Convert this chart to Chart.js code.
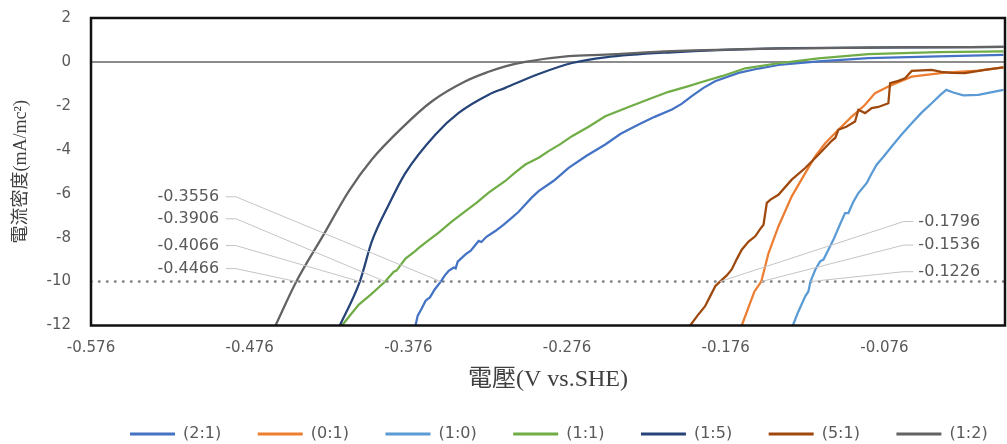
<!DOCTYPE html>
<html>
<head>
<meta charset="utf-8">
<script src="https://cdn.jsdelivr.net/npm/chart.js@4.4.1/dist/chart.umd.min.js"></script>
<style>
html,body{margin:0;padding:0;background:#fff;overflow:hidden}
#wrap{position:relative;width:1007px;height:444px}
</style>
</head>
<body>
<div id="wrap"><canvas id="c" width="1007" height="444"></canvas></div>
<script>
// ---------------- data ----------------
const SERIES_NAMES = ['(2:1)', '(0:1)', '(1:0)', '(1:1)', '(1:5)', '(5:1)', '(1:2)'];

const S_2_1 = [[-0.3715,-12.0],[-0.3701,-11.55],[-0.3676,-11.23],[-0.3652,-10.88],[-0.3640,-10.80],[-0.3625,-10.73],[-0.3594,-10.36],[-0.3556,-10.0],[-0.3531,-9.73],[-0.3506,-9.51],[-0.3474,-9.36],[-0.3462,-9.40],[-0.3449,-9.09],[-0.3400,-8.76],[-0.3367,-8.59],[-0.3317,-8.15],[-0.3300,-8.20],[-0.3266,-7.95],[-0.3212,-7.70],[-0.3159,-7.41],[-0.3107,-7.09],[-0.3065,-6.82],[-0.3023,-6.49],[-0.2983,-6.18],[-0.2939,-5.88],[-0.2844,-5.41],[-0.2750,-4.82],[-0.2637,-4.27],[-0.2519,-3.76],[-0.2422,-3.27],[-0.2309,-2.85],[-0.2208,-2.50],[-0.2099,-2.17],[-0.2038,-1.91],[-0.1974,-1.56],[-0.1900,-1.18],[-0.1827,-0.88],[-0.1679,-0.50],[-0.1553,-0.30],[-0.1428,-0.14],[-0.1176,0.02],[-0.0861,0.17],[-0.0420,0.25],[-0.001,0.32]];

const S_0_1 = [[-0.1659,-12.0],[-0.1606,-10.97],[-0.1579,-10.45],[-0.1536,-10.0],[-0.1490,-8.70],[-0.1428,-7.49],[-0.1344,-6.12],[-0.1259,-5.06],[-0.1196,-4.30],[-0.1133,-3.70],[-0.1050,-3.09],[-0.0966,-2.49],[-0.0924,-2.23],[-0.0882,-1.95],[-0.0819,-1.42],[-0.0735,-1.12],[-0.0588,-0.67],[-0.0378,-0.49],[-0.0168,-0.40],[-0.001,-0.25]];

const S_1_0 = [[-0.1337,-12.0],[-0.1302,-11.36],[-0.1259,-10.67],[-0.1239,-10.45],[-0.1226,-10.0],[-0.1195,-9.45],[-0.1165,-9.08],[-0.1144,-9.0],[-0.1113,-8.55],[-0.1081,-8.09],[-0.1043,-7.45],[-0.1008,-6.88],[-0.0987,-6.88],[-0.0955,-6.36],[-0.0924,-5.97],[-0.0871,-5.51],[-0.0848,-5.18],[-0.0809,-4.68],[-0.0766,-4.32],[-0.0714,-3.85],[-0.0653,-3.32],[-0.0588,-2.79],[-0.0527,-2.32],[-0.0462,-1.88],[-0.0407,-1.50],[-0.0370,-1.27],[-0.0326,-1.39],[-0.0263,-1.52],[-0.0168,-1.50],[-0.001,-1.27]];

const S_1_1 = [[-0.4178,-12.0],[-0.4123,-11.5],[-0.4072,-11.05],[-0.3997,-10.59],[-0.3906,-10.0],[-0.3852,-9.55],[-0.3835,-9.50],[-0.3778,-8.95],[-0.3715,-8.60],[-0.3700,-8.50],[-0.3644,-8.18],[-0.3569,-7.77],[-0.3487,-7.27],[-0.3400,-6.79],[-0.3329,-6.41],[-0.3254,-5.95],[-0.3149,-5.42],[-0.3090,-5.05],[-0.3023,-4.67],[-0.2939,-4.36],[-0.2876,-4.06],[-0.2800,-3.73],[-0.2729,-3.38],[-0.2624,-2.95],[-0.2519,-2.47],[-0.2372,-2.05],[-0.2225,-1.64],[-0.2120,-1.36],[-0.1994,-1.10],[-0.1900,-0.89],[-0.1785,-0.65],[-0.1637,-0.29],[-0.1428,-0.06],[-0.1176,0.16],[-0.0861,0.36],[-0.0420,0.45],[-0.001,0.48]];

const S_1_5 = [[-0.4192,-12.0],[-0.4066,-10.0],[-0.3989,-8.15],[-0.3883,-6.49],[-0.3778,-5.05],[-0.3589,-3.30],[-0.3443,-2.32],[-0.3254,-1.49],[-0.3149,-1.18],[-0.2939,-0.55],[-0.2729,-0.05],[-0.2519,0.21],[-0.2099,0.44],[-0.1490,0.61],[-0.0672,0.66],[-0.001,0.68]];

const S_5_1 = [[-0.1984,-12.0],[-0.1938,-11.55],[-0.1890,-11.12],[-0.1856,-10.64],[-0.1826,-10.21],[-0.1796,-10.0],[-0.1755,-9.73],[-0.1722,-9.45],[-0.1692,-9.0],[-0.1659,-8.55],[-0.1616,-8.18],[-0.1574,-7.94],[-0.1541,-7.59],[-0.1522,-7.41],[-0.1501,-6.42],[-0.1478,-6.27],[-0.1428,-6.05],[-0.1344,-5.36],[-0.1259,-4.83],[-0.1176,-4.23],[-0.1092,-3.59],[-0.1069,-3.45],[-0.1050,-3.09],[-0.1000,-2.95],[-0.0945,-2.71],[-0.0924,-2.18],[-0.0882,-2.33],[-0.0840,-2.10],[-0.0798,-2.05],[-0.0735,-1.88],[-0.0724,-0.97],[-0.0672,-0.86],[-0.0630,-0.74],[-0.0588,-0.41],[-0.0462,-0.36],[-0.0401,-0.45],[-0.0336,-0.50],[-0.0252,-0.51],[-0.0126,-0.36],[-0.001,-0.25]];

const S_1_2 = [[-0.4597,-12.0],[-0.4466,-10.0],[-0.4293,-7.85],[-0.4135,-5.88],[-0.3989,-4.43],[-0.3800,-3.0],[-0.3611,-1.79],[-0.3400,-0.88],[-0.3254,-0.45],[-0.3149,-0.20],[-0.3023,0.0],[-0.2750,0.26],[-0.2519,0.33],[-0.2099,0.49],[-0.1490,0.61],[-0.0672,0.66],[-0.001,0.68]];

const SERIES_COLORS = ['#4472C4', '#ED7D31', '#5B9BD5', '#70AD47', '#264478', '#9E480E', '#636363'];
const SERIES_DATA = [S_2_1, S_0_1, S_1_0, S_1_1, S_1_5, S_5_1, S_1_2];
const SERIES_SMOOTH = [false, false, false, false, true, false, true];

const X_TICKS = [-0.576, -0.476, -0.376, -0.276, -0.176, -0.076];
const X_MIN = -0.576, X_MAX = 0;
const Y_MIN = -12, Y_MAX = 2, Y_STEP = 2;
const ZERO_Y = 0;
const REF_Y = -10;
const LEFT_MARKS = [-0.3556, -0.3906, -0.4066, -0.4466];
const RIGHT_MARKS = [-0.1796, -0.1536, -0.1226];

const X_TITLE = '電壓(V vs.SHE)';
const Y_TITLE = '電流密度(mA/mc²)';

// ---------------- layout / style (not data) ----------------
const LEFT_LABEL_Y = [-6.14, -7.14, -8.36, -9.41];   // label rows in value units
const RIGHT_LABEL_Y = [-7.27, -8.34, -9.55];
const LEFT_TEXT_X = -0.4952, LEFT_LEAD_X0 = -0.4910, LEFT_LEAD_X1 = -0.4847;
const RIGHT_TEXT_X = -0.0546, RIGHT_LEAD_X0 = -0.0577, RIGHT_LEAD_X1 = -0.0640;
const LEGEND_START_X = 130, LEGEND_CENTER_Y = 434;

const toXY = arr => arr.map(p => ({x: p[0], y: p[1]}));

const datasets = SERIES_NAMES.map((name, i) => ({
  label: name,
  data: toXY(SERIES_DATA[i]),
  borderColor: SERIES_COLORS[i],
  backgroundColor: SERIES_COLORS[i],
  borderWidth: 2.25,
  pointRadius: 0,
  pointHoverRadius: 0,
  fill: false,
  tension: SERIES_SMOOTH[i] ? 0.4 : 0,
  cubicInterpolationMode: SERIES_SMOOTH[i] ? 'monotone' : 'default',
  order: SERIES_NAMES.length - i
}));

datasets.push({
  label: '', isRef: true,
  data: [{x: X_MIN, y: ZERO_Y}, {x: X_MAX, y: ZERO_Y}],
  borderColor: '#8c8c8c', borderWidth: 2, pointRadius: 0, fill: false, order: 20
});
datasets.push({
  label: '', isRef: true,
  data: [{x: X_MIN, y: REF_Y}, {x: X_MAX, y: REF_Y}],
  borderColor: '#7f7f7f', borderWidth: 2.5, borderDash: [0.5, 7.5], borderCapStyle: 'round',
  pointRadius: 0, fill: false, order: 19
});

const framePlugin = {
  id: 'frameAndMarks',
  afterLayout(chart) {
    const lg = chart.legend;
    if (!lg || !lg.lineWidths) return;
    const pad = lg.options.labels.padding;
    const curStart = (lg.left + pad + lg.right - lg.lineWidths[0]) / 2;
    const dx = LEGEND_START_X - curStart;
    lg.left += dx; lg.right += dx;
    const itemH = lg.options.labels.font.size;
    const newTop = LEGEND_CENTER_Y - pad - itemH / 2;
    const dy = newTop - lg.top;
    lg.top += dy; lg.bottom += dy;
  },
  afterDatasetsDraw(chart) {
    const {ctx, chartArea: a, scales: {x: xs, y: ys}} = chart;
    ctx.save();
    const yRef = ys.getPixelForValue(REF_Y);
    ctx.font = '16px "DejaVu Sans"';
    ctx.fillStyle = '#595959';
    ctx.strokeStyle = '#c4c4c4';
    ctx.lineWidth = 1;
    ctx.textBaseline = 'middle';
    LEFT_MARKS.forEach((v, i) => {
      const ly = ys.getPixelForValue(LEFT_LABEL_Y[i]);
      ctx.textAlign = 'right';
      ctx.fillText(v.toFixed(4), xs.getPixelForValue(LEFT_TEXT_X), ly);
      ctx.beginPath();
      ctx.moveTo(xs.getPixelForValue(LEFT_LEAD_X0), ly);
      ctx.lineTo(xs.getPixelForValue(LEFT_LEAD_X1), ly);
      ctx.lineTo(xs.getPixelForValue(v), yRef);
      ctx.stroke();
    });
    RIGHT_MARKS.forEach((v, i) => {
      const ly = ys.getPixelForValue(RIGHT_LABEL_Y[i]);
      ctx.textAlign = 'left';
      ctx.fillText(v.toFixed(4), xs.getPixelForValue(RIGHT_TEXT_X), ly);
      ctx.beginPath();
      ctx.moveTo(xs.getPixelForValue(RIGHT_LEAD_X0), ly);
      ctx.lineTo(xs.getPixelForValue(RIGHT_LEAD_X1), ly);
      ctx.lineTo(xs.getPixelForValue(v), yRef);
      ctx.stroke();
    });
    ctx.strokeStyle = '#111';
    ctx.lineWidth = 2.5;
    ctx.strokeRect(a.left, a.top, a.right - a.left, a.bottom - a.top);
    ctx.restore();
  }
};

new Chart(document.getElementById('c'), {
  type: 'line',
  data: {datasets},
  options: {
    responsive: false,
    animation: false,
    devicePixelRatio: 1,
    layout: {padding: {top: 18, right: 2, left: 0, bottom: 0}},
    plugins: {
      tooltip: {enabled: false},
      legend: {
        position: 'bottom',
        align: 'center',
        labels: {
          boxWidth: 45,
          boxHeight: 3,
          padding: 36.5,
          color: '#595959',
          font: {family: '"DejaVu Sans"', size: 16},
          generateLabels(chart) {
            const items = Chart.defaults.plugins.legend.labels.generateLabels(chart);
            return items
              .filter(it => !chart.data.datasets[it.datasetIndex].isRef)
              .sort((p, q) => p.datasetIndex - q.datasetIndex)
              .map(it => Object.assign(it, {lineWidth: 0}));
          }
        }
      }
    },
    scales: {
      x: {
        type: 'linear',
        min: X_MIN,
        max: X_MAX,
        grid: {display: false, drawTicks: false},
        border: {display: false},
        afterBuildTicks(scale) { scale.ticks = X_TICKS.map(v => ({value: v})); },
        afterFit(scale) { scale.height = 56; },
        ticks: {
          padding: 14,
          color: '#595959',
          font: {family: '"DejaVu Sans"', size: 15},
          maxRotation: 0,
          autoSkip: false,
          callback: v => v.toFixed(3)
        },
        title: {
          display: true,
          text: X_TITLE,
          color: '#404040',
          font: {family: '"Liberation Serif", "Noto Sans CJK TC"', size: 24},
          padding: {top: 0, bottom: -13}
        }
      },
      y: {
        type: 'linear',
        min: Y_MIN,
        max: Y_MAX,
        grid: {display: false, drawTicks: false},
        border: {display: false},
        afterFit(scale) { scale.width = 91; scale.paddingTop = 9; scale.paddingBottom = 9; },
        ticks: {
          stepSize: Y_STEP,
          padding: 20,
          color: '#595959',
          font: {family: '"DejaVu Sans"', size: 15}
        },
        title: {
          display: true,
          text: Y_TITLE,
          color: '#404040',
          font: {family: '"Liberation Serif", "Noto Sans CJK TC"', size: 18},
          padding: {top: 10, bottom: 0}
        }
      }
    }
  },
  plugins: [framePlugin]
});
</script>
</body>
</html>
